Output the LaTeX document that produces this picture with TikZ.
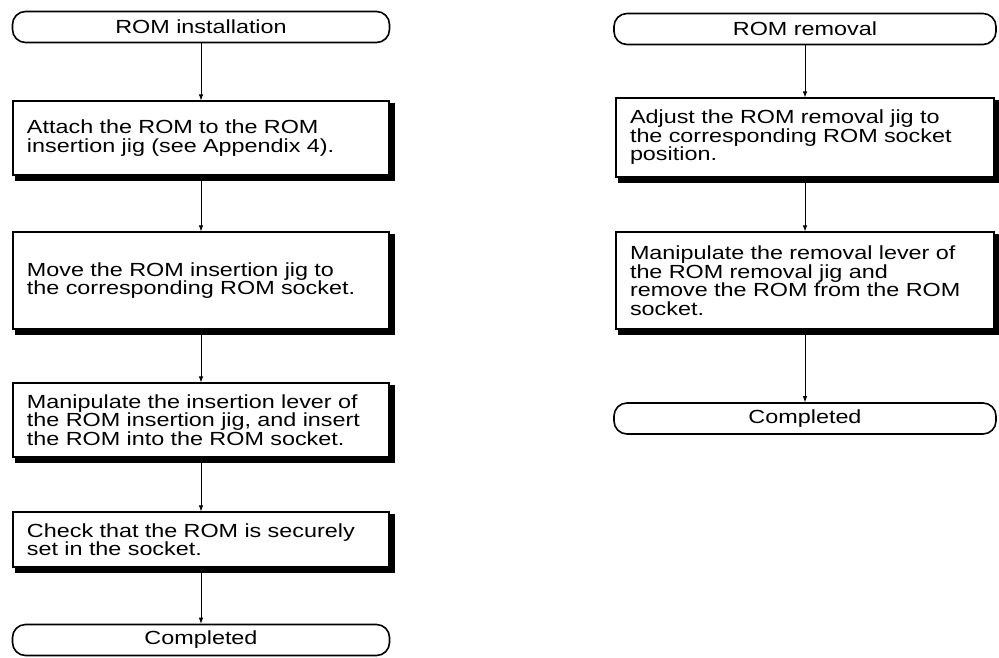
\documentclass[tikz,border=0pt]{standalone}
\usepackage{fontspec}
\setmainfont{Liberation Sans}[FakeStretch=1.23]
\usepackage{tikz}
\usetikzlibrary{arrows.meta, positioning, calc}
\newcommand{\boxrim}[1]{%
  \fill ($(#1.north east)+(0,3)$) rectangle ($(#1.south east)+(5,5)$);
  \fill ($(#1.south west)+(3,0)$) rectangle ($(#1.south east)+(5,5)$);}

\begin{document}
\begin{tikzpicture}[x=1pt, y=-1pt,
  termbox/.style={rectangle, draw, rounded corners=13pt, line width=1.6pt, minimum width=377pt, minimum height=31pt, inner sep=0pt, font=\fontsize{19}{18.5}\selectfont},
  stepbox/.style={rectangle, draw, line width=1.2pt, fill=white, minimum width=376pt, text width=348pt, inner xsep=14pt, inner ysep=2pt, align=left, font=\fontsize{19}{18.5}\selectfont},
  arrow/.style={-{Latex[length=6pt, width=4.5pt]}, line width=0.8pt}
]
\useasboundingbox (0,0) rectangle (999,657);
% installation
\node[termbox] (inst) at (201,27) {ROM installation};
\node[stepbox, minimum height=74pt] (attach) at (201,138) {Attach the ROM to the ROM\\insertion jig (see Appendix 4).};
\node[stepbox, minimum height=97pt] (move) at (201,280.5) {Move the ROM insertion jig to\\the corresponding ROM socket.};
\node[stepbox, minimum height=74pt] (insert) at (201,420) {Manipulate the insertion lever of\\the ROM insertion jig, and insert\\the ROM into the ROM socket.};
\node[stepbox, minimum height=55pt] (check) at (201,539.5) {Check that the ROM is securely\\set in the socket.};
\node[termbox] (doneL) at (201,640) {Completed};
\boxrim{attach} \boxrim{move} \boxrim{insert} \boxrim{check}
\draw[arrow] (inst) -- (attach);
\draw[arrow] (attach) -- (move);
\draw[arrow] (move) -- (insert);
\draw[arrow] (insert) -- (check);
\draw[arrow] (check) -- (doneL);
% removal
\node[termbox, minimum width=382pt] (remv) at (805,29) {ROM removal};
\node[stepbox, minimum width=378pt, text width=350pt, minimum height=79pt] (adjust) at (805,137.5) {Adjust the ROM removal jig to\\the corresponding ROM socket\\position.};
\node[stepbox, minimum width=378pt, text width=350pt, minimum height=97pt] (lever) at (805,280.5) {Manipulate the removal lever of\\the ROM removal jig and\\remove the ROM from the ROM\\socket.};
\node[termbox, minimum width=382pt] (doneR) at (805,418.5) {Completed};
\boxrim{adjust} \boxrim{lever}
\draw[arrow] (remv) -- (adjust);
\draw[arrow] (adjust) -- (lever);
\draw[arrow] (lever) -- (doneR);
\end{tikzpicture}
\end{document}
